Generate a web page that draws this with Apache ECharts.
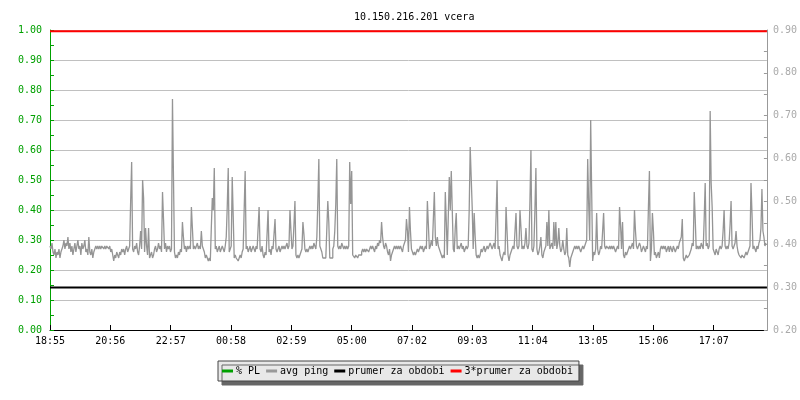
<!DOCTYPE html>
<html>
<head>
<meta charset="utf-8">
<script src="https://cdn.jsdelivr.net/npm/echarts@6/dist/echarts.min.js"></script>
<style>html,body{margin:0;padding:0;background:#fff;}#c{width:800px;height:400px;}</style>
</head>
<body>
<div id="c"></div>
<script>
const titleText = '10.150.216.201 vcera';
const tickLabels = ['18:55','20:56','22:57','00:58','02:59','05:00','07:02','09:03','11:04','13:05','15:06','17:07'];
const tickStepMinutes = 121.2;
const totalMinutes = 1440;
const sampleMinutes = 2;
const seriesNames = ['% PL', 'avg ping', 'prumer za obdobi', '3*prumer za obdobi'];
const plPercent = [];
const prumer = 0.299;
const triplePrumer = 0.897;
const avgPing = [
.28,.27,.29,.26,.25,.27,.24,.26,.25,.27,
.24,.26,.27,.28,.30,.27,.29,.28,.31,.27,
.29,.26,.28,.25,.27,.29,.26,.28,.30,.27,
.28,.25,.29,.27,.28,.30,.26,.27,.25,.31,
.26,.25,.27,.24,.26,.27,.28,.27,.28,.27,
.28,.27,.28,.28,.27,.28,.27,.28,.28,.27,
.28,.26,.27,.25,.23,.25,.24,.26,.25,.24,
.26,.25,.27,.26,.27,.25,.27,.28,.26,.27,
.28,.43,.56,.27,.26,.28,.27,.29,.26,.25,
.28,.33,.27,.50,.44,.26,.34,.28,.25,.34,
.24,.25,.26,.24,.25,.27,.28,.26,.27,.29,
.27,.28,.26,.46,.37,.27,.29,.26,.28,.27,
.28,.26,.27,.77,.51,.26,.24,.25,.24,.26,
.25,.27,.26,.36,.31,.27,.28,.26,.28,.27,
.28,.27,.41,.34,.27,.28,.27,.28,.29,.27,
.28,.27,.33,.28,.27,.26,.24,.25,.24,.23,
.24,.23,.34,.44,.40,.54,.27,.28,.26,.27,
.28,.26,.27,.28,.27,.26,.28,.31,.41,.54,
.26,.27,.28,.51,.38,.24,.25,.24,.24,.23,
.24,.25,.24,.26,.27,.40,.53,.27,.28,.26,
.27,.28,.26,.27,.28,.27,.26,.28,.27,.34,
.41,.27,.26,.28,.25,.24,.26,.25,.32,.40,
.26,.27,.25,.28,.27,.32,.37,.27,.26,.27,
.28,.26,.27,.28,.27,.28,.27,.28,.29,.27,
.28,.40,.33,.27,.28,.35,.43,.25,.24,.25,
.24,.25,.26,.27,.36,.32,.27,.26,.27,.26,
.27,.28,.27,.28,.27,.29,.28,.27,.31,.43,
.57,.28,.27,.26,.24,.24,.24,.24,.24,.43,
.36,.24,.24,.24,.27,.28,.33,.42,.57,.28,
.27,.28,.27,.29,.28,.27,.28,.27,.28,.27,
.28,.56,.42,.53,.25,.25,.24,.25,.25,.24,
.25,.25,.25,.26,.27,.26,.27,.26,.27,.27,
.26,.27,.28,.27,.28,.27,.26,.28,.27,.29,
.28,.30,.29,.36,.31,.28,.27,.29,.28,.26,
.25,.27,.23,.25,.26,.27,.28,.27,.28,.27,
.28,.27,.28,.27,.26,.28,.29,.30,.37,.33,
.26,.41,.33,.27,.26,.25,.26,.25,.26,.27,
.26,.27,.28,.27,.28,.26,.27,.28,.27,.43,
.35,.27,.28,.30,.28,.37,.46,.31,.28,.31,
.28,.27,.26,.25,.24,.25,.24,.46,.36,.25,
.38,.51,.40,.53,.40,.27,.26,.34,.39,.27,
.28,.27,.28,.29,.27,.28,.26,.27,.28,.27,
.28,.40,.61,.51,.41,.27,.39,.31,.25,.24,
.25,.24,.25,.27,.26,.27,.28,.26,.27,.28,
.27,.28,.29,.28,.27,.28,.29,.27,.38,.50,
.27,.28,.25,.24,.23,.25,.26,.25,.41,.33,
.25,.23,.25,.26,.27,.28,.27,.33,.39,.28,
.27,.28,.40,.34,.27,.28,.27,.29,.34,.28,
.27,.29,.43,.60,.27,.26,.28,.40,.54,.27,
.25,.26,.28,.31,.25,.24,.26,.27,.28,.36,
.28,.40,.27,.28,.29,.27,.36,.28,.36,.27,
.29,.34,.28,.26,.27,.30,.27,.25,.26,.34,
.25,.24,.21,.24,.25,.26,.27,.28,.27,.28,
.27,.28,.27,.26,.27,.28,.27,.28,.29,.30,
.57,.42,.30,.70,.46,.23,.26,.25,.27,.39,
.27,.25,.26,.28,.27,.33,.39,.28,.27,.28,
.28,.27,.28,.27,.28,.27,.28,.27,.26,.27,
.28,.27,.41,.35,.27,.36,.25,.24,.26,.25,
.26,.27,.28,.27,.28,.29,.27,.40,.33,.28,
.27,.28,.29,.28,.26,.27,.28,.27,.26,.28,
.27,.41,.53,.23,.27,.39,.33,.25,.26,.24,
.25,.26,.24,.27,.28,.27,.28,.27,.28,.26,
.27,.28,.26,.28,.27,.26,.28,.27,.26,.27,
.28,.27,.29,.30,.31,.37,.24,.23,.24,.25,
.24,.24,.25,.26,.27,.29,.28,.46,.37,.27,
.28,.27,.28,.27,.29,.28,.27,.37,.49,.28,
.29,.27,.28,.73,.49,.41,.27,.26,.25,.27,
.26,.25,.27,.28,.27,.28,.33,.40,.28,.27,
.28,.27,.29,.35,.43,.28,.27,.28,.29,.33,
.28,.26,.25,.25,.24,.25,.25,.24,.25,.26,
.25,.25,.27,.28,.49,.39,.27,.28,.27,.26,
.28,.27,.29,.30,.34,.47,.33,.31,.28,.29
];

const FONT = 'DejaVu Sans Mono';
const pingData = avgPing.map((v, i) => [i * sampleMinutes, v]);
const plData = plPercent.map((v, i) => [i * sampleMinutes, v]);
const prumerData = [[0, prumer], [totalMinutes, prumer]];
const tripleData = [[0, triplePrumer], [totalMinutes, triplePrumer]];

const chart = echarts.init(document.getElementById('c'), null, {renderer: 'canvas'});
chart.setOption({
  animation: false,
  backgroundColor: '#ffffff',
  title: {
    text: titleText, left: 349, top: 7,
    textStyle: {fontFamily: FONT, fontSize: 10, fontWeight: 'normal', color: '#000'}
  },
  grid: {left: 50, right: 30, top: 30, bottom: 70, containLabel: false},
  legend: {
    data: seriesNames,
    left: 218, top: 361,
    padding: [5, 6, 5, 4],
    itemGap: 6,
    itemWidth: 11, itemHeight: 3,
    icon: 'rect',
    backgroundColor: '#e8e8e8',
    borderColor: '#444', borderWidth: 1,
    shadowColor: '#666', shadowBlur: 0, shadowOffsetX: 4, shadowOffsetY: 4,
    textStyle: {fontFamily: FONT, fontSize: 10, color: '#000', padding: [0, 0, 0, -2]}
  },
  xAxis: {
    type: 'value', min: 0, max: totalMinutes, interval: tickStepMinutes,
    axisLine: {show: true, lineStyle: {color: '#000', width: 1}},
    axisTick: {show: true, inside: true, length: 5, lineStyle: {color: '#000'}},
    splitLine: {show: false},
    axisLabel: {
      fontFamily: FONT, fontSize: 10, color: '#000', margin: 6,
      showMaxLabel: false,
      formatter: function (v) {
        const idx = Math.round(v / tickStepMinutes);
        if (Math.abs(v - idx * tickStepMinutes) < 1 && idx < tickLabels.length) return tickLabels[idx];
        return '';
      }
    }
  },
  yAxis: [
    {
      type: 'value', position: 'left', min: 0, max: 1, interval: 0.1,
      axisLine: {show: true, lineStyle: {color: '#00a000', width: 1}},
      axisTick: {show: true, inside: true, length: 4, lineStyle: {color: '#00a000'}},
      minorTick: {show: true, splitNumber: 2, length: 4, lineStyle: {color: '#00a000'}},
      splitLine: {show: true, lineStyle: {color: '#c0c0c0', width: 1}},
      axisLabel: {fontFamily: FONT, fontSize: 10, color: '#00a000', margin: 8,
        formatter: v => v.toFixed(2)}
    },
    {
      type: 'value', position: 'right', min: 0.2, max: 0.9, interval: 0.1,
      axisLine: {show: true, lineStyle: {color: '#999', width: 1}},
      axisTick: {show: true, inside: true, length: 3, lineStyle: {color: '#999'}},
      minorTick: {show: true, splitNumber: 2, length: 3, lineStyle: {color: '#999'}},
      splitLine: {show: false},
      axisLabel: {fontFamily: FONT, fontSize: 10, color: '#aaa', margin: 6,
        formatter: v => v.toFixed(2)}
    }
  ],
  series: [
    {name: seriesNames[0], type: 'line', yAxisIndex: 0, data: plData, symbol: 'none',
      itemStyle: {color: '#00a000'}, lineStyle: {color: '#00a000', width: 1}},
    {name: seriesNames[1], type: 'line', yAxisIndex: 0, data: pingData, symbol: 'none', step: 'end',
      itemStyle: {color: '#999'}, lineStyle: {color: '#959595', width: 1.3}, z: 3},
    {name: seriesNames[2], type: 'line', yAxisIndex: 1, data: prumerData, symbol: 'none',
      itemStyle: {color: '#000'}, lineStyle: {color: '#000', width: 2}, z: 4},
    {name: seriesNames[3], type: 'line', yAxisIndex: 1, data: tripleData, symbol: 'none',
      itemStyle: {color: '#ff0000'}, lineStyle: {color: '#ff0000', width: 2}, z: 4}
  ]
});
</script>
</body>
</html>
